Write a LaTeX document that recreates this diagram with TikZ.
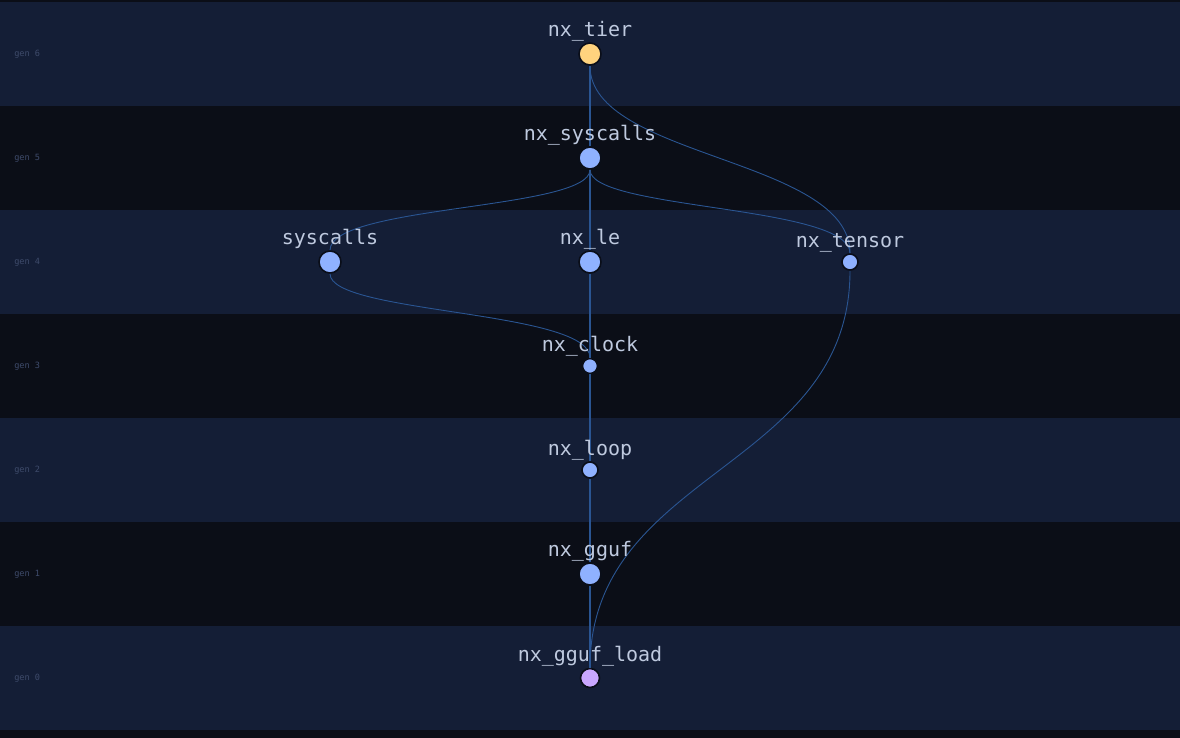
\documentclass[tikz,border=0pt]{standalone}
\usepackage{fontspec}
\setmonofont{DejaVu Sans Mono}
\usetikzlibrary{positioning,calc}
\definecolor{cBandA}{HTML}{141E36}
\definecolor{cBandB}{HTML}{0B0E17}
\definecolor{cEdge}{HTML}{2A5592}
\definecolor{cNode}{HTML}{8FB1FF}
\definecolor{cRoot}{HTML}{FFD37E}
\definecolor{cLeaf}{HTML}{C9A6FF}
\definecolor{cRim}{HTML}{0A0E19}
\definecolor{cText}{HTML}{BFCADF}
\definecolor{cGen}{HTML}{3E4B6B}
\tikzset{
  every picture/.style={line width=0.5pt},
  mod/.style={circle, draw=cRim, line width=1.6pt, fill=cNode, inner sep=0pt},
  big/.style={mod, minimum size=22pt},
  small/.style={mod, minimum size=16pt},
  lbl/.style={font=\ttfamily\fontsize{20}{20}\selectfont, text=cText, inner sep=0pt, anchor=base},
  gen/.style={font=\ttfamily\fontsize{8.6}{9}\selectfont, text=cGen, inner sep=0pt, anchor=west},
  dep/.style={draw=cEdge, line width=0.9pt},
  spine/.style={draw=cEdge, line width=2.8pt},
}

\begin{document}
\begin{tikzpicture}[x=1pt,y=-1pt]

% ---------------------------------------------------------------- generation bands
\fill[cBandB] (0,0) rectangle (1180,738);
\foreach \g/\top in {6/2,4/210,2/418,0/626}
  \fill[cBandA] (0,\top) rectangle (1180,\top+104);
\foreach \g/\y in {6/54,5/158,4/262,3/366,2/470,1/574,0/678}
  \node[gen] (g\g) at (14,\y) {gen \g};

% ---------------------------------------------------------------- modules
\node[big, fill=cRoot] (tier) at (590,54) {};
\node[big] (nxsys) at (590,158) {};
\node[big] (sys) at (330,262) {};
\node[big] (le) at (590,262) {};
\node[small] (tensor) at (850,262) {};
\node[mod, minimum size=15pt] (clock) at (590,366) {};
\node[small] (loop) at (590,470) {};
\node[big] (gguf) at (590,574) {};
\node[mod, minimum size=19pt, fill=cLeaf] (load) at (590,678) {};

% ---------------------------------------------------------------- dependencies
\draw[spine] (tier) -- (nxsys);
\draw[spine] (nxsys) -- (le);
\draw[spine] (le) -- (clock);
\draw[spine] (clock) -- (loop);
\draw[spine] (loop) -- (gguf);
\draw[spine] (gguf) -- (load);
\draw[dep] (tier) .. controls (590,158) and (850,158) .. (tensor);
\draw[dep] (nxsys) .. controls (590,210) and (330,205) .. (sys);
\draw[dep] (nxsys) .. controls (590,210) and (850,205) .. (tensor);
\draw[dep] (sys) .. controls (330,314) and (590,310) .. (clock);
\draw[dep] (tensor) .. controls (850,470) and (590,470) .. (load);

% ---------------------------------------------------------------- names
\foreach \n/\t in {tier/nx\_tier,nxsys/nx\_syscalls,sys/syscalls,le/nx\_le,
                   tensor/nx\_tensor,clock/nx\_clock,loop/nx\_loop,
                   gguf/nx\_gguf,load/nx\_gguf\_load}
  \node[lbl] (\n-l) at ([yshift=6pt]\n.north) {\t};

\end{tikzpicture}
\end{document}
